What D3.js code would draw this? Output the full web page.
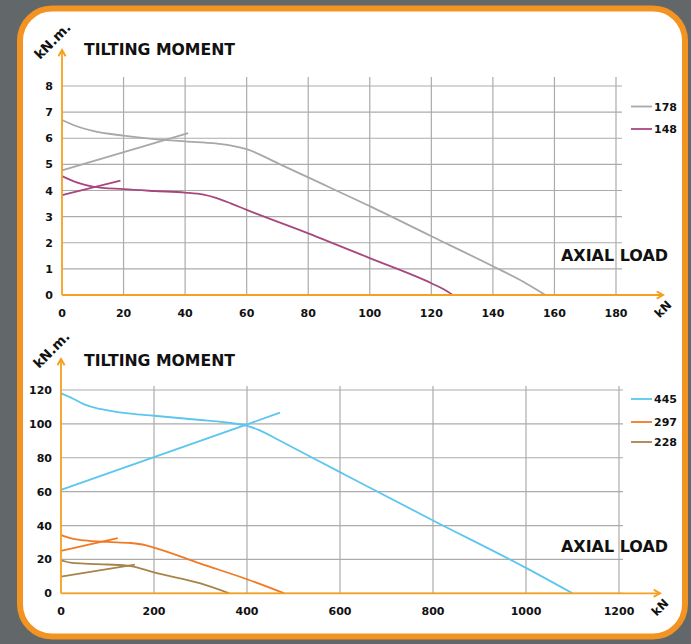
<!DOCTYPE html>
<html>
<head>
<meta charset="utf-8">
<script src="https://cdn.jsdelivr.net/npm/d3@7"></script>
<style>
  html, body { margin: 0; padding: 0; background: #62676a; }
  svg { display: block; }
  text { font-family: "DejaVu Sans", "Liberation Sans", Arial, sans-serif; font-weight: bold; fill: #111; }
</style>
</head>
<body>
<svg id="chart" width="691" height="644"></svg>
<script>
// top panel (kN / kN.m.)
const topXTicks = [0, 20, 40, 60, 80, 100, 120, 140, 160, 180];
const topYTicks = [0, 1, 2, 3, 4, 5, 6, 7, 8];
const topSeries = ["178", "148"];
const curve178 = [[0, 6.7], [5, 6.45], [10, 6.28], [20, 6.1], [30, 5.97], [40, 5.88], [50, 5.8], [55, 5.72], [60, 5.58], [70, 5.05], [80, 4.5], [100, 3.4], [120, 2.25], [140, 1.1], [150, 0.5], [154, 0.22], [157, 0]];
const line178 = [[0, 4.77], [41, 6.2]];
const curve148 = [[0, 4.55], [5, 4.3], [10, 4.15], [20, 4.05], [30, 3.98], [40, 3.92], [46, 3.84], [50, 3.72], [55, 3.5], [60, 3.26], [80, 2.36], [100, 1.41], [120, 0.45], [124, 0.22], [127, 0]];
const line148 = [[0, 3.82], [19, 4.38]];

// bottom panel
const botXTicks = [0, 200, 400, 600, 800, 1000, 1200];
const botYTicks = [0, 20, 40, 60, 80, 100, 120];
const botSeries = ["445", "297", "228"];
const curve445 = [[0, 118], [25, 115], [50, 111.5], [80, 109], [100, 108], [150, 106], [200, 104.8], [300, 102.3], [350, 101], [400, 98.8], [425, 96.5], [471, 90], [600, 71.5], [800, 43], [1000, 15], [1100, 0]];
const line445 = [[0, 61], [471, 106.6]];
const curve297 = [[0, 34.5], [20, 32.5], [50, 31.2], [100, 30.3], [150, 29.7], [175, 28.8], [200, 27], [300, 17.5], [400, 8.3], [480, 0]];
const line297 = [[0, 25.1], [122, 32.6]];
const curve228 = [[0, 19.5], [20, 18.1], [50, 17.5], [100, 17], [150, 16.1], [200, 12.3], [300, 5.8], [362, 0]];
const line228 = [[0, 9.8], [159, 16.9]];

const ORANGE = "#f39322";
const AXIS_ORANGE = "#f5a01e";
const GRID = "#ababab";

const svg = d3.select("#chart");
const defs = svg.append("defs");

defs.append("marker")
  .attr("id", "arrow")
  .attr("viewBox", "0 -5 10 10")
  .attr("refX", 8)
  .attr("refY", 0)
  .attr("markerWidth", 5)
  .attr("markerHeight", 5)
  .attr("orient", "auto")
  .append("path")
  .attr("d", "M1,-4L8,0L1,4")
  .attr("fill", "none")
  .attr("stroke", AXIS_ORANGE)
  .attr("stroke-width", 2.2);

// background + rounded frame
svg.append("rect").attr("width", 691).attr("height", 644).attr("fill", "#62676a");
svg.append("rect")
  .attr("x", 20).attr("y", 8.5)
  .attr("width", 665).attr("height", 628)
  .attr("rx", 32)
  .attr("fill", "#fff")
  .attr("stroke", ORANGE)
  .attr("stroke-width", 6);

function drawPanel(p) {
  const g = svg.append("g");
  const x = d3.scaleLinear().domain(p.xDomain).range(p.xRange);
  const y = d3.scaleLinear().domain(p.yDomain).range(p.yRange);

  // vertical grid lines
  g.selectAll("line.vg")
    .data(p.xTicks.slice(1))
    .enter().append("line")
    .attr("x1", d => x(d)).attr("x2", d => x(d))
    .attr("y1", p.gridTop).attr("y2", y(0))
    .attr("stroke", GRID).attr("stroke-width", 1.2);

  // horizontal grid lines
  g.selectAll("line.hg")
    .data(p.yTicks)
    .enter().append("line")
    .attr("x1", x(0)).attr("x2", p.gridRight)
    .attr("y1", d => y(d)).attr("y2", d => y(d))
    .attr("stroke", GRID).attr("stroke-width", 1.2);

  // tick labels
  g.selectAll("text.xt")
    .data(p.xTicks)
    .enter().append("text")
    .attr("x", d => x(d))
    .attr("y", y(0) + 22)
    .attr("text-anchor", "middle")
    .style("font-size", "11px")
    .text(d => d);

  g.selectAll("text.yt")
    .data(p.yTicks)
    .enter().append("text")
    .attr("x", p.xRange[0] - 9)
    .attr("y", d => y(d) + 4)
    .attr("text-anchor", "end")
    .style("font-size", "11px")
    .text(d => d);

  // series
  const line = d3.line().x(d => x(d[0])).y(d => y(d[1])).curve(d3.curveMonotoneX);
  p.series.forEach(s => {
    g.append("path").datum(s.curve)
      .attr("d", line).attr("fill", "none")
      .attr("stroke", s.color).attr("stroke-width", 1.8);
    g.append("path").datum(s.line)
      .attr("d", line).attr("fill", "none")
      .attr("stroke", s.color).attr("stroke-width", 1.8);
  });

  // axes (orange, with arrows)
  g.append("line")
    .attr("x1", x(0)).attr("x2", x(0))
    .attr("y1", y(0)).attr("y2", p.yArrow)
    .attr("stroke", AXIS_ORANGE).attr("stroke-width", 1.8)
    .attr("marker-end", "url(#arrow)");
  g.append("line")
    .attr("x1", x(0)).attr("x2", p.xArrow)
    .attr("y1", y(0)).attr("y2", y(0))
    .attr("stroke", AXIS_ORANGE).attr("stroke-width", 1.8)
    .attr("marker-end", "url(#arrow)");

  // unit labels
  g.append("text")
    .attr("transform", `translate(${x(0) - 22},${p.yArrow + 10}) rotate(-45)`)
    .attr("text-anchor", "start")
    .style("font-size", "13.5px")
    .text("kN.m.");
  g.append("text")
    .attr("transform", `translate(${p.xArrow + 3},${y(0) + 17}) rotate(-45)`)
    .attr("text-anchor", "middle")
    .style("font-size", "12px")
    .text("kN");

  // titles
  g.append("text")
    .attr("x", 84).attr("y", p.titleY)
    .attr("textLength", 151)
    .attr("lengthAdjust", "spacingAndGlyphs")
    .style("font-size", "16px")
    .text("TILTING MOMENT");
  g.append("text")
    .attr("x", 561).attr("y", p.axialY)
    .attr("textLength", 107)
    .attr("lengthAdjust", "spacingAndGlyphs")
    .style("font-size", "16px")
    .text("AXIAL LOAD");

  // legend
  const lg = g.selectAll("g.leg")
    .data(p.series)
    .enter().append("g")
    .attr("transform", (d, i) => `translate(631,${p.legendY[i]})`);
  lg.append("line")
    .attr("x1", 0).attr("x2", 21)
    .attr("stroke", d => d.color).attr("stroke-width", 1.8);
  lg.append("text")
    .attr("x", 23).attr("y", 4)
    .style("font-size", "11px")
    .text(d => d.name);
}

drawPanel({
  xDomain: [0, 180], xRange: [62, 616],
  yDomain: [0, 8], yRange: [295, 86],
  xTicks: topXTicks, yTicks: topYTicks,
  gridTop: 77, gridRight: 622,
  yArrow: 50, xArrow: 663,
  titleY: 55, axialY: 261,
  legendY: [106.5, 129],
  series: [
    { name: topSeries[0], color: "#a8a8a8", curve: curve178, line: line178 },
    { name: topSeries[1], color: "#a8477e", curve: curve148, line: line148 }
  ]
});

drawPanel({
  xDomain: [0, 1200], xRange: [61, 619],
  yDomain: [0, 120], yRange: [593.3, 390],
  xTicks: botXTicks, yTicks: botYTicks,
  gridTop: 386, gridRight: 623,
  yArrow: 359, xArrow: 660,
  titleY: 366, axialY: 552,
  legendY: [399, 422, 442],
  series: [
    { name: botSeries[0], color: "#5cc6ef", curve: curve445, line: line445 },
    { name: botSeries[1], color: "#f07a24", curve: curve297, line: line297 },
    { name: botSeries[2], color: "#a8844c", curve: curve228, line: line228 }
  ]
});
</script>
</body>
</html>
